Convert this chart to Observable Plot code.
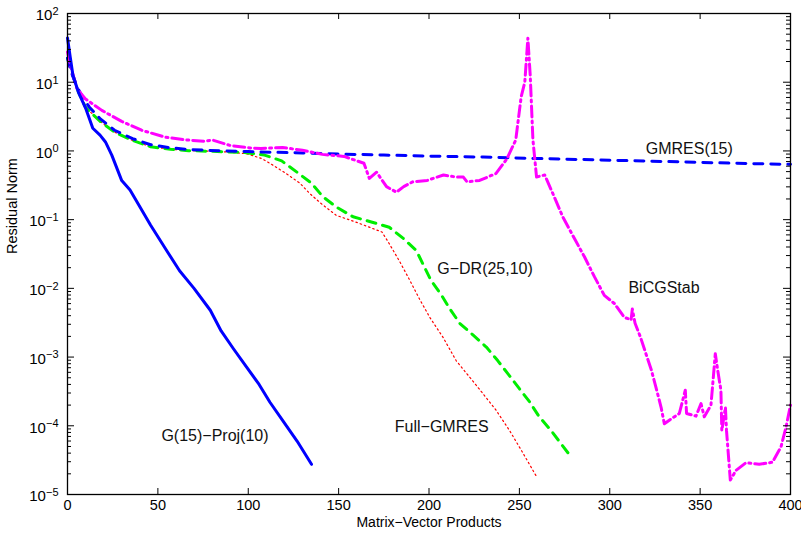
<!DOCTYPE html>
<html><head><meta charset="utf-8">
<script src="https://cdn.jsdelivr.net/npm/d3@7"></script>
<script src="https://cdn.jsdelivr.net/npm/@observablehq/plot@0.6"></script>
<style>
body{margin:0;background:#fff;}
#chart{width:801px;height:533px;}
</style></head><body><div id="chart"></div>
<script>
// ---- data ----
const xTicks = [0, 50, 100, 150, 200, 250, 300, 350, 400];
const xTickLabels = ["0", "50", "100", "150", "200", "250", "300", "350", "400"];
const yTicks = [1e-5, 1e-4, 1e-3, 1e-2, 1e-1, 1, 10, 100];
const yTickExp = ["\u22125", "\u22124", "\u22123", "\u22122", "\u22121", "0", "1", "2"];
const xTitle = "Matrix\u2212Vector Products";
const yTitle = "Residual Norm";

// G(15)-Proj(10)  (blue solid)
const gprojX = [0, 1.5, 3, 6, 10, 14, 18, 21, 24.5, 30, 34.6, 38, 46, 55, 62, 70, 79, 85, 92, 99, 106, 112, 119, 127, 135];
const gprojY = [44, 23.4, 12.6, 7.2, 4.2, 2.14, 1.7, 1.35, 0.87, 0.37, 0.27, 0.19, 0.083, 0.035, 0.018, 0.010, 0.0048, 0.0024, 0.0013, 7.2e-4, 4.0e-4, 2.2e-4, 1.2e-4, 6.0e-5, 2.75e-5];

// GMRES(15)  (blue dashed)
const gmresX = [0, 2, 5, 8, 12, 18, 26, 36, 46, 57, 67, 78, 88, 100, 115, 130, 150, 175, 200, 230, 260, 300, 340, 370, 400];
const gmresY = [22.4, 14.1, 8.9, 6.3, 4.37, 2.95, 2.0, 1.51, 1.23, 1.11, 1.05, 1.02, 1.0, 0.977, 0.955, 0.933, 0.902, 0.871, 0.841, 0.813, 0.776, 0.733, 0.692, 0.661, 0.638];

// G-DR(25,10)  (green dashed)
const gdrX = [0, 3, 6, 10, 18, 26, 36, 46, 57, 67, 78, 88, 97, 109, 118.5, 127, 135, 141.4, 149, 158, 167.6, 178, 185.6, 193, 201, 207, 211.4, 217, 224.3, 231.7, 238, 243.6, 250, 255.6, 261, 267.6, 273, 278];
const gdrY = [22.4, 12.6, 7.24, 4.3, 2.7, 1.88, 1.42, 1.15, 1.06, 1.01, 0.99, 0.97, 0.955, 0.871, 0.716, 0.490, 0.339, 0.214, 0.151, 0.110, 0.0933, 0.0776, 0.0537, 0.0355, 0.0132, 0.0079, 0.0051, 0.0031, 0.0021, 0.0014, 8.9e-4, 5.75e-4, 3.47e-4, 2.24e-4, 1.35e-4, 8.5e-5, 5.5e-5, 3.7e-5];

// Full-GMRES  (red dotted)
const fullX = [0, 3, 6, 10, 18, 26, 36, 46, 57, 67, 78, 88, 99, 107.4, 113.8, 121, 128.6, 134, 140.5, 148.8, 159, 169, 174, 178, 184, 189.3, 195, 200.4, 207.7, 215, 222.5, 229.8, 237, 244.6, 252, 259.3];
const fullY = [25.1, 12.6, 7.24, 4.3, 2.7, 1.88, 1.42, 1.15, 1.06, 1.01, 0.99, 0.966, 0.912, 0.776, 0.617, 0.468, 0.339, 0.240, 0.170, 0.115, 0.0933, 0.0741, 0.066, 0.0447, 0.024, 0.0132, 0.0068, 0.0038, 0.00195, 8.9e-4, 5.1e-4, 2.95e-4, 1.7e-4, 8.5e-5, 4.0e-5, 1.86e-5];

// BiCGStab  (magenta dash-dot)
const bicgX = [0, 2.4, 5.2, 9.8, 19, 30, 41, 54, 66, 76, 80, 90, 101, 107, 119, 130, 141, 153, 164, 167, 171, 176.5, 182, 186, 191, 199, 208, 215, 219, 221, 228, 237, 243, 248, 251, 253, 254.7, 256, 257.5, 259.5, 264, 268.5, 274, 281, 286, 291.5, 297, 302.6, 308, 311.8, 312.5, 314, 317, 320, 323, 325.6, 328.4, 330.2, 334, 338.5, 341.8, 342.5, 347.7, 350.5, 352.3, 356, 358.4, 359.7, 361.5, 362, 364, 364.6, 366.7, 369.8, 375.4, 382.7, 390, 394.7, 397.5, 400];
const bicgY = [27.5, 14.8, 8.13, 5.75, 3.89, 2.69, 2.0, 1.585, 1.445, 1.38, 1.445, 1.20, 1.107, 1.084, 1.122, 1.023, 0.891, 0.832, 0.661, 0.398, 0.490, 0.302, 0.251, 0.302, 0.355, 0.372, 0.447, 0.417, 0.417, 0.355, 0.372, 0.468, 0.759, 1.445, 6.17, 10, 43.7, 12.6, 1.445, 0.417, 0.447, 0.240, 0.110, 0.050, 0.0288, 0.0148, 0.0079, 0.0060, 0.0038, 0.00347, 0.0050, 0.0031, 0.00195, 0.00112, 6.5e-4, 3.6e-4, 1.86e-4, 1.07e-4, 1.26e-4, 1.51e-4, 3.3e-4, 1.51e-4, 1.38e-4, 2.1e-4, 1.35e-4, 2.0e-4, 0.00112, 6.5e-4, 3.3e-4, 8.5e-5, 1.86e-4, 8.5e-5, 1.62e-5, 2.24e-5, 2.9e-5, 2.75e-5, 2.95e-5, 4.9e-5, 9.5e-5, 2.0e-4];

// in-plot series labels (anchor in data units)
const labelText = ["GMRES(15)", "G\u2212DR(25,10)", "BiCGStab", "Full\u2212GMRES", "G(15)\u2212Proj(10)"];
const labelX = [344, 231, 330, 207, 81.6];
const labelY = [1.06, 0.019, 0.0100, 9.5e-5, 7.1e-5];

// ---- layout ----
const W = 801, H = 533;
const mL = 67, mR = 11, mT = 13, mB = 39;
const fw = W - mL - mR, fh = H - mT - mB;

const rows = (xs, ys) => xs.map((x, i) => ({x, y: ys[i]}));
const yMinor = [];
for (const t of yTicks.slice(0, -1)) for (let m = 2; m <= 9; m++) yMinor.push(t * m);
const labels = labelText.map((t, i) => ({label: t, x: labelX[i], y: labelY[i]}));

const chart = Plot.plot({
  width: W, height: H,
  marginLeft: mL, marginRight: mR, marginTop: mT, marginBottom: mB,
  style: {fontFamily: "'Liberation Sans', Arial, Helvetica, sans-serif", fontSize: "15px", color: "#000", background: "#fff"},
  x: {domain: [0, 400]},
  y: {type: "log", domain: [1e-5, 1e2]},
  marks: [
    Plot.line(rows(fullX, fullY), {x: "x", y: "y", stroke: "#ff0000", strokeWidth: 1.2, strokeDasharray: "1.5,3"}),
    Plot.line(rows(gdrX, gdrY), {x: "x", y: "y", stroke: "#00ee00", strokeWidth: 3, strokeDasharray: "9,7"}),
    Plot.line(rows(gmresX, gmresY), {x: "x", y: "y", stroke: "#0000ff", strokeWidth: 3, strokeDasharray: "9,8"}),
    Plot.line(rows(bicgX, bicgY), {x: "x", y: "y", stroke: "#ff00ff", strokeWidth: 3, strokeDasharray: "11,4,2,4"}),
    Plot.line(rows(gprojX, gprojY), {x: "x", y: "y", stroke: "#0000ff", strokeWidth: 3}),
    Plot.frame({stroke: "#000", strokeWidth: 1.3}),
    // inward ticks on all four sides
    Plot.tickY(yTicks, {y: d => d, insetRight: fw - 7, stroke: "#000"}),
    Plot.tickY(yTicks, {y: d => d, insetLeft: fw - 7, stroke: "#000"}),
    Plot.tickY(yMinor, {y: d => d, insetRight: fw - 4, stroke: "#000"}),
    Plot.tickY(yMinor, {y: d => d, insetLeft: fw - 4, stroke: "#000"}),
    Plot.tickX(xTicks, {x: d => d, insetTop: fh - 6, stroke: "#000"}),
    Plot.tickX(xTicks, {x: d => d, insetBottom: fh - 6, stroke: "#000"}),
    Plot.axisX({ticks: xTicks, tickSize: 0, tickPadding: 5, label: null, fontSize: 14.5,
      tickFormat: d => xTickLabels[xTicks.indexOf(d)]}),
    Plot.axisY({ticks: yTicks, tickSize: 0, tickPadding: 9, label: null, fontSize: 15, dy: 2,
      tickFormat: d => "10^" + yTickExp[yTicks.indexOf(d)]}),
    Plot.text([xTitle], {text: d => d, frameAnchor: "bottom", dy: 32, fontSize: 14, fill: "#000"}),
    Plot.text([yTitle], {text: d => d, frameAnchor: "left", rotate: -90, dx: -55, fontSize: 14.5, fill: "#000"}),
    Plot.text(labels, {x: "x", y: "y", text: "label", fontSize: 16, fill: "#111"})
  ]
});

// superscript exponents on the y tick labels
d3.select(chart).selectAll('g[aria-label="y-axis tick label"] text').each(function () {
  const [base, exp] = this.textContent.split("^");
  const sel = d3.select(this);
  sel.text(null);
  sel.append("tspan").text(base);
  sel.append("tspan").attr("dy", "-0.5em").attr("font-size", "11px").text(exp);
});

document.getElementById("chart").append(chart);
</script>
</body></html>
